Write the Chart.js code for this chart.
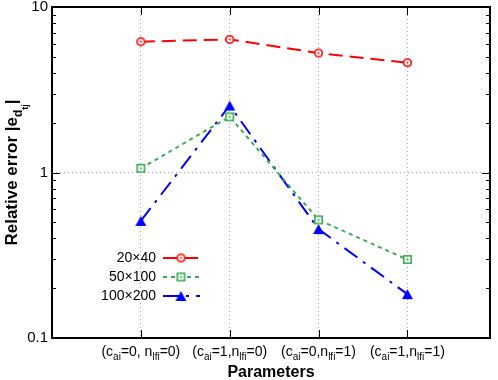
<!DOCTYPE html>
<html><head><meta charset="utf-8">
<script src="https://cdn.jsdelivr.net/npm/chart.js@4.4.1/dist/chart.umd.min.js"></script>
<style>html,body{margin:0;padding:0;background:#fff}#wrap{width:498px;height:380px}</style>
</head><body><div id="wrap"><canvas id="c" width="498" height="380"></canvas></div>
<script>
const categories = ["(c_{ai}=0, n_{lfi}=0)", "(c_{ai}=1,n_{lfi}=0)", "(c_{ai}=0,n_{lfi}=1)", "(c_{ai}=1,n_{lfi}=1)"];
const seriesNames = ["20×40", "50×100", "100×200"];
const err20x40 = [6.17, 6.37, 5.27, 4.61];
const err50x100 = [1.06, 2.17, 0.517, 0.298];
const err100x200 = [0.51, 2.54, 0.455, 0.184];
const yTickLabels = ["0.1", "1", "10"];
const yTickValues = [0.1, 1, 10];
const xTitle = "Parameters";

const RED = "#ff0000", GREEN = "rgb(60,172,80)", BLUE = "#0000ff";
const FONT = "'Liberation Sans', Arial, sans-serif";

function mk(w, h, fn) { const c = document.createElement('canvas'); c.width = w; c.height = h; fn(c.getContext('2d')); return c; }
const redPt = mk(11, 11, g => { g.strokeStyle = RED; g.lineWidth = 1.6; g.fillStyle = "#fff"; g.beginPath(); g.arc(5.5, 5.5, 3.8, 0, Math.PI*2); g.fill(); g.stroke(); g.fillStyle = RED; g.beginPath(); g.arc(5.5, 5.5, 1, 0, Math.PI*2); g.fill(); });
const greenPt = mk(11, 11, g => { g.strokeStyle = GREEN; g.lineWidth = 1.6; g.fillStyle = "#fff"; g.fillRect(1.5, 1.5, 8, 8); g.strokeRect(1.8, 1.8, 7.4, 7.4); g.fillStyle = GREEN; g.fillRect(4.5, 4.5, 2, 2); });
const bluePt = mk(13, 12, g => { g.fillStyle = BLUE; g.beginPath(); g.moveTo(6.5, 1); g.lineTo(12, 11); g.lineTo(1, 11); g.closePath(); g.fill(); });

const xs = [1, 2, 3, 4];
function pts(arr) { return arr.map((v, i) => ({x: xs[i], y: v})); }

const datasets = [
  {label: seriesNames[0], data: pts(err20x40), borderColor: RED, borderWidth: 2, borderDash: [14, 7], pointStyle: redPt, sample: redPt},
  {label: seriesNames[1], data: pts(err50x100), borderColor: GREEN, borderWidth: 2, borderDash: [4, 4], pointStyle: greenPt, sample: greenPt},
  {label: seriesNames[2], data: pts(err100x200), borderColor: BLUE, borderWidth: 2, borderDash: [16, 7, 3, 7], pointStyle: bluePt, sample: bluePt}
];
datasets.forEach(d => { d.fill = false; d.tension = 0; d.pointRadius = 5; d.backgroundColor = d.borderColor; });

function parseSub(s) {
  const segs = []; let re = /_\{([^}]*)\}/g, last = 0, m;
  while ((m = re.exec(s))) { if (m.index > last) segs.push([s.slice(last, m.index), 0]); segs.push([m[1], 1]); last = re.lastIndex; }
  if (last < s.length) segs.push([s.slice(last), 0]);
  return segs;
}
function segWidth(g, segs, size, bold) {
  let w = 0; segs.forEach(([t, l]) => { g.font = (bold ? "bold " : "") + Math.round(size * Math.pow(0.72, l)) + "px " + FONT; w += g.measureText(t).width; }); return w;
}
function drawSegs(g, segs, x, y, size, bold) {
  segs.forEach(([t, l]) => { const fs = Math.round(size * Math.pow(0.72, l)); g.font = (bold ? "bold " : "") + fs + "px " + FONT; g.fillText(t, x, y + l * size * 0.3 + (l > 1 ? 1 : 0)); x += g.measureText(t).width; });
}

const deco = {
  id: 'deco',
  afterDraw(chart) {
    const g = chart.ctx, a = chart.chartArea, xS = chart.scales.x, yS = chart.scales.y;
    g.save();
    g.strokeStyle = "#000"; g.lineWidth = 2; g.setLineDash([]);
    g.strokeRect(a.left, a.top, a.right - a.left, a.bottom - a.top);
    g.lineWidth = 1;
    for (let d = 0.1; d < 10; d *= 10) {
      for (let k = 1; k <= 10; k++) {
        const v = d * k; if (v > 10.0001) continue;
        const py = Math.round(yS.getPixelForValue(v)) + 0.5;
        const len = (k === 1 || k === 10) ? 8 : 4;
        g.beginPath(); g.moveTo(a.left, py); g.lineTo(a.left + len, py); g.moveTo(a.right, py); g.lineTo(a.right - len, py); g.stroke();
      }
    }
    xs.forEach(v => { const px = Math.round(xS.getPixelForValue(v)) + 0.5; g.beginPath(); g.moveTo(px, a.bottom); g.lineTo(px, a.bottom - 8); g.moveTo(px, a.top); g.lineTo(px, a.top + 8); g.stroke(); });
    g.fillStyle = "#000"; g.textAlign = "right"; g.textBaseline = "middle"; g.font = "15px " + FONT;
    yTickValues.forEach((v, i) => g.fillText(yTickLabels[i], a.left - 4, yS.getPixelForValue(v)));
    g.textAlign = "left"; g.textBaseline = "alphabetic";
    categories.forEach((c, i) => { const segs = parseSub(c); const w = segWidth(g, segs, 14, false); drawSegs(g, segs, xS.getPixelForValue(xs[i]) - w / 2, 356, 14, false); });
    g.textAlign = "center"; g.font = "bold 16px " + FONT; g.fillText(xTitle, (a.left + a.right) / 2, 377);
    g.save(); g.translate(17, (a.top + a.bottom) / 2); g.rotate(-Math.PI / 2); g.textAlign = "left";
    const ys = [["Relative error |e", 0], ["d", 1], ["tj", 2], ["|", 0]];
    const w = segWidth(g, ys, 16.5, true); drawSegs(g, ys, -w / 2, 0, 16.5, true);
    g.restore();
    datasets.forEach((d, i) => {
      const ly = 258 + i * 19;
      g.font = "14px " + FONT; g.textAlign = "right"; g.textBaseline = "middle"; g.fillStyle = "#000";
      g.fillText(d.label, 156, ly);
      g.strokeStyle = d.borderColor; g.lineWidth = 2; g.setLineDash(d.borderDash);
      g.beginPath(); g.moveTo(163, ly); g.lineTo(200, ly); g.stroke(); g.setLineDash([]);
      g.drawImage(d.sample, 181 - d.sample.width / 2, ly - d.sample.height / 2);
    });
    g.restore();
  }
};

new Chart(document.getElementById('c'), {
  type: 'line',
  data: {datasets},
  options: {
    responsive: false, animation: false, devicePixelRatio: 1,
    layout: {padding: {left: 52, right: 8, top: 6, bottom: 42}},
    plugins: {legend: {display: false}, tooltip: {enabled: false}},
    scales: {
      x: {type: 'linear', min: 0, max: 4.93, afterBuildTicks: s => { s.ticks = xs.map(v => ({value: v})); },
          ticks: {display: false}, border: {display: false, dash: [1, 3]},
          grid: {color: "#aaa", lineWidth: 1, drawTicks: false}},
      y: {type: 'logarithmic', min: 0.1, max: 10, afterBuildTicks: s => { s.ticks = [{value: 1}]; },
          ticks: {display: false}, border: {display: false, dash: [1, 3]},
          grid: {color: "#aaa", lineWidth: 1, drawTicks: false}}
    }
  },
  plugins: [deco]
});
</script></body></html>
